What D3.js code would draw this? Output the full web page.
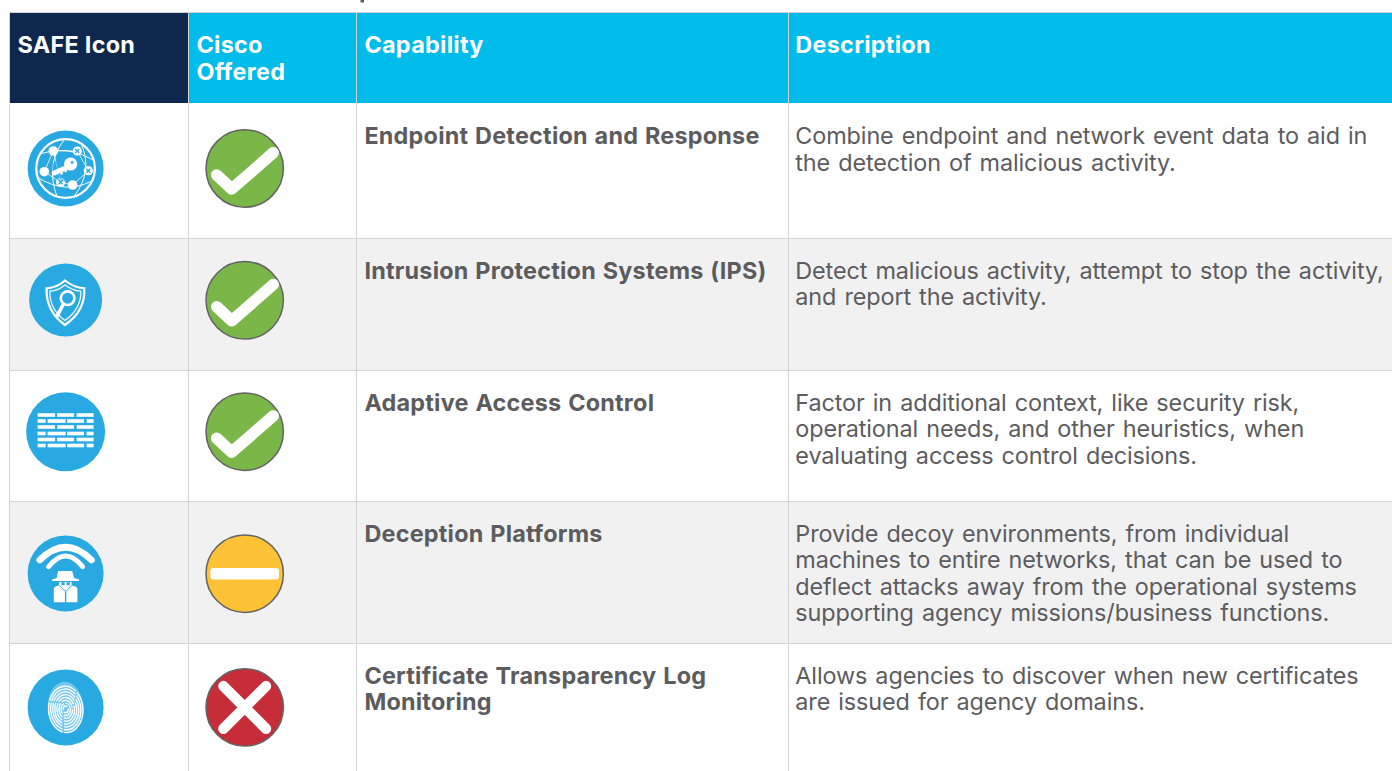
<!DOCTYPE html>
<html>
<head>
<meta charset="utf-8">
<script src="https://cdn.jsdelivr.net/npm/d3@7"></script>
<style>
  html, body { margin: 0; padding: 0; background: #fff; overflow: hidden; }
  svg { display: block; font-family: Inter, "Open Sans", sans-serif; }
</style>
</head>
<body>
<div id="chart"></div>
<script>
// table content
const headers = ['SAFE Icon', 'Cisco Offered', 'Capability', 'Description'];
const headerLines = [['SAFE Icon'], ['Cisco', 'Offered'], ['Capability'], ['Description']];
const capabilities = [
  ['Endpoint Detection and Response'],
  ['Intrusion Protection Systems (IPS)'],
  ['Adaptive Access Control'],
  ['Deception Platforms'],
  ['Certificate Transparency Log', 'Monitoring']
];
const descriptions = [
  ['Combine endpoint and network event data to aid in', 'the detection of malicious activity.'],
  ['Detect malicious activity, attempt to stop the activity,', 'and report the activity.'],
  ['Factor in additional context, like security risk,', 'operational needs, and other heuristics, when', 'evaluating access control decisions.'],
  ['Provide decoy environments, from individual', 'machines to entire networks, that can be used to', 'deflect attacks away from the operational systems', 'supporting agency missions/business functions.'],
  ['Allows agencies to discover when new certificates', 'are issued for agency domains.']
];
const offered = ['yes', 'yes', 'yes', 'partial', 'no'];
const icons = ['network', 'shield', 'wall', 'spy', 'fingerprint'];

// layout
const columnEdges = [10, 189, 357, 789, 1400];
const rowEdges = [103, 238, 370, 501, 643, 790];
const headerTop = 13;
const textDy = [41.4, 41, 41, 41, 41];
const iconRadius = [38, 36.5, 39.5, 38, 38];
const iconCy = [168.5, 300, 431.7, 573.4, 707.4];
const statusCy = [168.5, 300.3, 431.7, 573.7, 707.4];

const statusColor = d3.scaleOrdinal().domain(['yes', 'partial', 'no']).range(['#7ab648', '#fdc236', '#c62d39']);
const x = d3.scaleOrdinal().domain(headers).range(columnEdges);
const y = d3.scaleOrdinal().domain(capabilities.map(d => d[0])).range(rowEdges);

const textColor = '#5c5c5f', borderColor = '#d4d4d4', iconBlue = '#29a9e1';
const lineHeight = 26.35;

const svg = d3.select('#chart').append('svg').attr('width', 1392).attr('height', 771);

// heading above the table is cut off by the crop, only this descender is left
svg.append('path').attr('d', 'M360.5 0h3.5v2.5h-3.5z').attr('fill', textColor);

// header cells
headers.forEach((h, i) => {
  svg.append('rect')
    .attr('x', x(h)).attr('y', headerTop)
    .attr('width', columnEdges[i + 1] - columnEdges[i]).attr('height', rowEdges[0] - headerTop)
    .attr('fill', i === 0 ? '#0d274d' : '#00bceb');
  svg.append('text').attr('fill', '#fff').attr('font-weight', 700).attr('font-size', 23.4)
    .attr('letter-spacing', 0.3)
    .selectAll('tspan').data(headerLines[i]).join('tspan')
    .attr('x', x(h) + (i === 3 ? 6.3 : 7.4)).attr('y', (d, j) => 53 + j * 27)
    .text(d => d);
});

// body rows
const rows = svg.selectAll('g.row').data(capabilities).join('g').attr('class', 'row');
rows.append('rect')
  .attr('x', columnEdges[0]).attr('width', 1392)
  .attr('y', d => y(d[0]))
  .attr('height', (d, i) => rowEdges[i + 1] - rowEdges[i])
  .attr('fill', (d, i) => i % 2 ? '#f1f1f1' : '#fff');

rows.append('text').attr('fill', textColor).attr('font-weight', 700).attr('font-size', 23.4)
  .attr('letter-spacing', 0.23).attr('word-spacing', 1)
  .selectAll('tspan').data((d, i) => d.map((t, j) => ({t, j, i}))).join('tspan')
  .attr('x', x('Capability') + 7.4)
  .attr('y', d => rowEdges[d.i] + textDy[d.i] + d.j * lineHeight)
  .text(d => d.t);

rows.append('text').attr('fill', textColor).attr('font-size', 23.4)
  .attr('letter-spacing', -0.1).attr('word-spacing', 1.63)
  .selectAll('tspan').data((d, i) => descriptions[i].map((t, j) => ({t, j, i}))).join('tspan')
  .attr('x', x('Description') + 6.3)
  .attr('y', d => rowEdges[d.i] + textDy[d.i] + d.j * lineHeight)
  .text(d => d.t);

// grid lines
const grid = svg.append('g').attr('stroke', borderColor).attr('stroke-width', 1);
grid.append('line').attr('x1', 9.5).attr('x2', 1392).attr('y1', 12.5).attr('y2', 12.5);
rowEdges.slice(1, 5).forEach(e => grid.append('line').attr('x1', 10).attr('x2', 1392).attr('y1', e + 0.5).attr('y2', e + 0.5));
columnEdges.slice(0, 4).forEach(e => grid.append('line')
  .attr('x1', e - 0.5).attr('x2', e - 0.5).attr('y1', 12).attr('y2', 771));

// status badges
offered.forEach((s, i) => {
  const g = svg.append('g').attr('transform', `translate(244.7,${statusCy[i]})`);
  g.append('circle').attr('r', 38.7).attr('fill', statusColor(s)).attr('stroke', '#636363').attr('stroke-width', 1.5);
  if (s === 'yes') {
    g.append('path').attr('d', 'M-28 6.5L-13 20.5L28.6 -15.8').attr('fill', 'none').attr('stroke', '#fff')
      .attr('stroke-width', 11.5).attr('stroke-linecap', 'round').attr('stroke-linejoin', 'round');
  } else if (s === 'partial') {
    g.append('rect').attr('x', -34.3).attr('y', -5.7).attr('width', 68.6).attr('height', 11.4).attr('rx', 3).attr('fill', '#fff');
  } else {
    g.append('path').attr('d', 'M-21.3 -21.3L21.3 21.3M21.3 -21.3L-21.3 21.3').attr('stroke', '#fff')
      .attr('stroke-width', 10.5).attr('stroke-linecap', 'round');
  }
});

// SAFE icons, white glyph on a blue disc
const drawIcon = {
  network(g) {
    g.append('circle').attr('r', 29.3).attr('fill', 'none').attr('stroke', '#fff').attr('stroke-width', 2.2);
    const nodes = [[-12.3, -17.5], [-21.3, 3.2], [7, 16.5], [11.7, -17.5], [22.7, 2.2], [-5, 13.8]];
    [[0, 1], [0, 3], [1, 5], [5, 2], [3, 4], [4, 2], [0, 5]].forEach(([a, b]) => g.append('line')
      .attr('x1', nodes[a][0]).attr('y1', nodes[a][1]).attr('x2', nodes[b][0]).attr('y2', nodes[b][1])
      .attr('stroke', '#fff').attr('stroke-width', 1).attr('opacity', 0.8));
    g.append('path').attr('d', 'M-24 -15Q0 -24 27 -9M-28 9Q0 26 25 13M-2 -28Q-20 -4 -9 27M15 -26Q28 2 9 27')
      .attr('fill', 'none').attr('stroke', '#fff').attr('stroke-width', 1);
    nodes.slice(0, 3).forEach(n => g.append('circle').attr('cx', n[0]).attr('cy', n[1]).attr('r', 4.8).attr('fill', '#fff'));
    nodes.slice(3).forEach(n => {
      g.append('circle').attr('cx', n[0]).attr('cy', n[1]).attr('r', 4.6).attr('fill', '#fff');
      g.append('path').attr('d', `M${n[0] - 2} ${n[1] - 2}l4 4M${n[0] + 2} ${n[1] - 2}l-4 4`).attr('stroke', iconBlue).attr('stroke-width', 1.3);
    });
    // key
    g.append('circle').attr('cx', -2).attr('cy', 1).attr('r', 12).attr('fill', iconBlue).attr('opacity', 0.55);
    g.append('path').attr('d', 'M-11.3 4.5L2 -1.5').attr('stroke', '#fff').attr('stroke-width', 5).attr('stroke-linecap', 'round');
    g.append('path').attr('d', 'M-5 2.5l1.5 3.5M-1 0.5l1.5 3').attr('stroke', '#fff').attr('stroke-width', 2.4);
    g.append('circle').attr('cx', 5).attr('cy', -4.5).attr('r', 6.6).attr('fill', '#fff');
    g.append('circle').attr('cx', 6.5).attr('cy', -6).attr('r', 1.4).attr('fill', iconBlue);
  },
  shield(g) {
    g.append('path').attr('d', 'M-0.7 -19.5Q8 -12.5 18.7 -11.7Q20 11 -0.7 25Q-20 11 -19 -11.7Q-8 -12.5 -0.7 -19.5Z')
      .attr('fill', 'none').attr('stroke', '#fff').attr('stroke-width', 2.2);
    g.append('path').attr('d', 'M-0.7 -15Q7 -9.5 15.3 -8.8Q15.5 9 -0.7 20.5Q-16 9 -15.8 -8.8Q-7 -9.5 -0.7 -15Z')
      .attr('fill', 'none').attr('stroke', '#fff').attr('stroke-width', 1.2);
    g.append('path').attr('d', 'M-2.5 4.5L-8.5 16').attr('stroke', '#fff').attr('stroke-width', 3.6).attr('stroke-linecap', 'round');
    g.append('circle').attr('cx', 2).attr('cy', -1.8).attr('r', 6.8).attr('fill', 'none').attr('stroke', '#fff').attr('stroke-width', 2.6);
  },
  wall(g) {
    const rowsY = [-18.5, -12.5, -6.5, 0, 6, 12];
    rowsY.forEach((yy, r) => {
      const cells = r % 2 ? [[-28, 8], [-18, 18], [1.5, 17], [21, 7]] : [[-28, 17.5], [-8.5, 17], [11, 17]];
      cells.forEach(c => g.append('rect').attr('x', c[0]).attr('y', yy).attr('width', c[1]).attr('height', 3.6).attr('fill', '#fff'));
    });
  },
  spy(g) {
    g.append('path').attr('d', 'M-26 -13.3Q0 -39 26 -13.3').attr('fill', 'none').attr('stroke', '#fff').attr('stroke-width', 6.4).attr('stroke-linecap', 'round');
    g.append('path').attr('d', 'M-17 -6.7Q0 -28 17 -6.7').attr('fill', 'none').attr('stroke', '#fff').attr('stroke-width', 5).attr('stroke-linecap', 'round');
    // hat
    g.append('path').attr('d', 'M-7.5 -2.5H6.5L8.5 4.5L13.5 6V7.5H-13.5V6L-9 4.5Z').attr('fill', '#fff');
    // coat and face
    g.append('path').attr('d', 'M-11.8 28.8V16Q-11.8 12.5 -6.5 12V8.5H6V12Q11.8 12.5 11.8 16V28.8H0.7V18H-0.7V28.8Z').attr('fill', '#fff');
    g.append('path').attr('d', 'M-6 12L-1 17.5H1L6 12').attr('fill', 'none').attr('stroke', iconBlue).attr('stroke-width', 0.9);
    g.append('rect').attr('x', -4.2).attr('y', 8.8).attr('width', 3.2).attr('height', 3).attr('fill', iconBlue);
    g.append('rect').attr('x', 1).attr('y', 8.8).attr('width', 3.2).attr('height', 3).attr('fill', iconBlue);
  },
  fingerprint(g) {
    const ridge = g.append('g').attr('transform', 'rotate(-4)');
    ridge.append('ellipse').attr('rx', 17.8).attr('ry', 25.6).attr('fill', '#fff').attr('opacity', 0.35);
    d3.range(2.5, 18.5, 2.1).forEach((r, k) => ridge.append('ellipse')
      .attr('cy', 2).attr('rx', r).attr('ry', r * 1.35)
      .attr('fill', 'none').attr('stroke', '#fff').attr('stroke-width', 1.35)
      .attr('stroke-dasharray', `${7 + k * 4} 1.6`));
  }
};
icons.forEach((name, i) => {
  const g = svg.append('g').attr('transform', `translate(65.6,${iconCy[i]})`);
  g.append('circle').attr('r', iconRadius[i]).attr('fill', iconBlue);
  drawIcon[name](g);
});
</script>
</body>
</html>
